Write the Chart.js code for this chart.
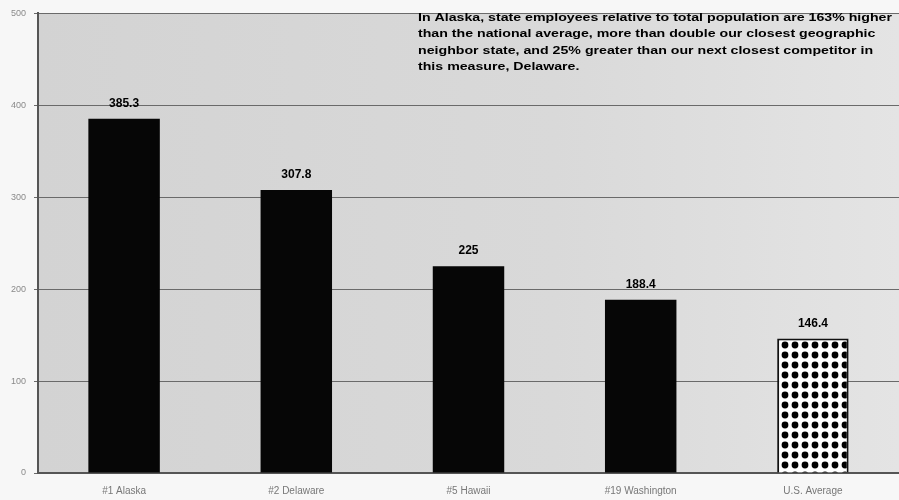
<!DOCTYPE html>
<html>
<head>
<meta charset="utf-8">
<script src="https://cdn.jsdelivr.net/npm/chart.js@4.4.0/dist/chart.umd.min.js"></script>
<style>
  html, body { margin: 0; padding: 0; background: #f7f7f7; }
  #wrap { width: 899px; height: 500px; position: relative; }
</style>
</head>
<body>
<div id="wrap"><canvas id="chart" width="899" height="500"></canvas></div>
<script>
// data
const states = ['#1 Alaska', '#2 Delaware', '#5 Hawaii', '#19 Washington', 'U.S. Average'];
const employees = [385.3, 307.8, 225, 188.4, 146.4];
const valueLabels = ['385.3', '307.8', '225', '188.4', '146.4'];
const yTicks = [0, 100, 200, 300, 400, 500];
const noteLines = [
    'In Alaska, state employees relative to total population are 163% higher',
    'than the national average, more than double our closest geographic',
    'neighbor state, and 25% greater than our next closest competitor in',
    'this measure, Delaware.'
];

// dotted fill for the national average bar
function dotPattern() {
    const c = document.createElement('canvas');
    c.width = 10; c.height = 10;
    const g = c.getContext('2d');
    g.fillStyle = '#ffffff';
    g.fillRect(0, 0, 10, 10);
    g.fillStyle = '#000000';
    g.beginPath();
    g.arc(5, 5, 3.4, 0, Math.PI * 2);
    g.fill();
    return g.createPattern(c, 'repeat');
}

const ctx = document.getElementById('chart').getContext('2d');
const dots = dotPattern();

// grey plot background, a bit lighter on the right like the scan
const plotBg = {
    id: 'plotBg',
    beforeDraw(chart) {
        const {ctx, chartArea: a} = chart;
        const grad = ctx.createLinearGradient(a.left, 0, a.right, 0);
        grad.addColorStop(0, '#d3d3d3');
        grad.addColorStop(0.6, '#d9d9d9');
        grad.addColorStop(1, '#e4e4e4');
        ctx.save();
        ctx.fillStyle = grad;
        ctx.fillRect(a.left, a.top, a.right - a.left, a.bottom - a.top);
        ctx.restore();
    }
};

// numbers over the bars + the note at the top right
const labelsAndNote = {
    id: 'labelsAndNote',
    afterDatasetsDraw(chart) {
        const c = chart.ctx;
        const meta = chart.getDatasetMeta(0);
        c.save();
        c.fillStyle = '#000';
        c.font = 'bold 12px "Liberation Sans", Arial, sans-serif';
        c.textAlign = 'center';
        c.textBaseline = 'bottom';
        meta.data.forEach((bar, i) => {
            c.fillText(valueLabels[i], bar.x, bar.y - 9);
        });

        // the note is set in a wide heavy face, so stretch it to its width
        c.font = 'bold 11.5px "Liberation Sans", Arial, sans-serif';
        const w = c.measureText(noteLines[0]).width;
        const sx = 474 / w;
        c.textAlign = 'left';
        c.textBaseline = 'middle';
        c.translate(418, 0);
        c.scale(sx, 1);
        noteLines.forEach((line, i) => {
            c.fillText(line, 0, 18 + i * 16.3);
        });
        c.restore();
    }
};

const myChart = new Chart(ctx, {
    type: 'bar',
    data: {
        labels: states,
        datasets: [{
            data: employees,
            backgroundColor: ['#060606', '#060606', '#060606', '#060606', dots],
            borderColor: '#111',
            borderWidth: [0, 0, 0, 0, 2],
            categoryPercentage: 1,
            barPercentage: 0.415
        }]
    },
    options: {
        responsive: false,
        animation: false,
        layout: { padding: { top: 12, right: 0, left: 0, bottom: 0 } },
        plugins: {
            legend: { display: false },
            tooltip: { enabled: false }
        },
        scales: {
            x: {
                grid: { display: false },
                border: { color: '#555', width: 2 },
                ticks: {
                    color: '#777',
                    padding: 4,
                    font: { family: '"Liberation Sans Narrow", "Liberation Sans", sans-serif', size: 10 }
                },
                afterFit(s) { s.height = 27; }
            },
            y: {
                min: 0,
                max: 500,
                afterBuildTicks(s) { s.ticks = yTicks.map(v => ({value: v})); },
                grid: { color: '#6a6a6a', lineWidth: 1, tickLength: 4 },
                border: { color: '#555', width: 2 },
                ticks: {
                    color: '#8a8a8a',
                    padding: 8,
                    font: { family: '"Liberation Sans", sans-serif', size: 9 }
                },
                afterFit(s) { s.width = 38; }
            }
        }
    },
    plugins: [plotBg, labelsAndNote]
});
</script>
</body>
</html>
